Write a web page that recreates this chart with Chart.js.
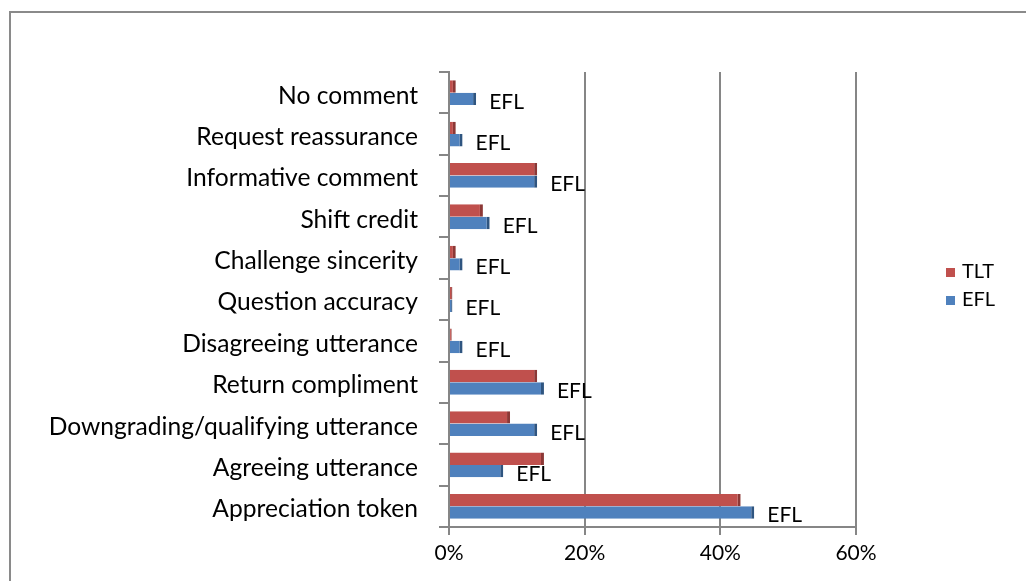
<!DOCTYPE html>
<html>
<head>
<meta charset="utf-8">
<script src="https://cdn.jsdelivr.net/npm/chart.js@4/dist/chart.umd.min.js"></script>
<style>
  html, body { margin: 0; padding: 0; background: #fff; }
  #wrap { position: relative; width: 1026px; height: 581px; overflow: hidden; }
  #frame { position: absolute; left: 9px; top: 11px; width: 1200px; height: 800px;
           border-left: 2px solid #8a8a8a; border-top: 2px solid #8a8a8a; }
  #myChart { position: absolute; left: 0; top: 0; }
</style>
</head>
<body>
<div id="wrap">
  <div id="frame"></div>
  <canvas id="myChart" width="1026" height="581"></canvas>
</div>
<script>
// categories, top to bottom
const categories = [
  'No comment',
  'Request reassurance',
  'Informative comment',
  'Shift credit',
  'Challenge sincerity',
  'Question accuracy',
  'Disagreeing utterance',
  'Return compliment',
  'Downgrading/qualifying utterance',
  'Agreeing utterance',
  'Appreciation token'
];
// values in %
const tltValues = [1, 1, 13, 5, 1, 0.5, 0.4, 13, 9, 14, 43];
const eflValues = [4, 2, 13, 6, 2, 0.5, 2, 14, 13, 8, 45];
const xTicks = [0, 20, 40, 60];

const FONT = 'Lato, Carlito, "Liberation Sans", sans-serif';

// "EFL" label next to each blue bar
const eflLabels = {
  id: 'eflLabels',
  afterDatasetsDraw(chart) {
    const ctx = chart.ctx;
    const meta = chart.getDatasetMeta(1);
    ctx.save();
    ctx.font = '21px ' + FONT;
    ctx.fillStyle = '#000';
    ctx.textBaseline = 'middle';
    ctx.textAlign = 'left';
    meta.data.forEach(bar => {
      ctx.fillText('EFL', bar.x + 13, bar.y + 3);
    });
    ctx.restore();
  }
};

// legend on the right
const sideLegend = {
  id: 'sideLegend',
  afterDraw(chart) {
    const ctx = chart.ctx;
    ctx.save();
    ctx.font = '20px ' + FONT;
    ctx.textBaseline = 'middle';
    chart.data.datasets.forEach((ds, i) => {
      const y = 272 + i * 28;
      ctx.fillStyle = ds.backgroundColor;
      ctx.fillRect(946, y - 4, 9, 9);
      ctx.fillStyle = '#000';
      ctx.fillText(ds.label, 962, y);
    });
    ctx.restore();
  }
};

const data = {
  labels: categories,
  datasets: [{
    label: 'TLT',
    data: tltValues,
    backgroundColor: '#C0504D',
    borderColor: '#8C3836',
    borderWidth: {top: 0, right: 3, bottom: 0, left: 0},
    borderSkipped: false
  }, {
    label: 'EFL',
    data: eflValues,
    backgroundColor: '#4F81BD',
    borderColor: '#2F5580',
    borderWidth: {top: 0, right: 3, bottom: 0, left: 0},
    borderSkipped: false
  }]
};

const config = {
  type: 'bar',
  data: data,
  plugins: [eflLabels, sideLegend],
  options: {
    indexAxis: 'y',
    responsive: false,
    animation: false,
    layout: { padding: { left: 0, top: 72, right: 170, bottom: 0 } },
    categoryPercentage: 0.6,
    barPercentage: 1.0,
    plugins: {
      legend: { display: false },
      tooltip: { enabled: false }
    },
    scales: {
      x: {
        min: 0,
        max: 60,
        afterBuildTicks(scale) { scale.ticks = xTicks.map(v => ({value: v})); },
        afterFit(scale) { scale.height = 54; },
        grid: { color: '#868686', lineWidth: 2, tickLength: 8, tickColor: '#868686' },
        border: { color: '#868686', width: 2 },
        ticks: {
          color: '#000',
          padding: 6,
          font: { family: FONT, size: 21 },
          callback: v => v + '%'
        }
      },
      y: {
        afterFit(scale) { scale.width = 449; },
        grid: { offset: true, drawOnChartArea: false, tickLength: 10, color: '#868686', lineWidth: 2 },
        border: { color: '#868686', width: 2 },
        ticks: {
          color: '#000',
          padding: 21,
          labelOffset: 3,
          font: { family: FONT, size: 24.6 }
        }
      }
    }
  }
};

new Chart(document.getElementById('myChart'), config);
</script>
</body>
</html>
